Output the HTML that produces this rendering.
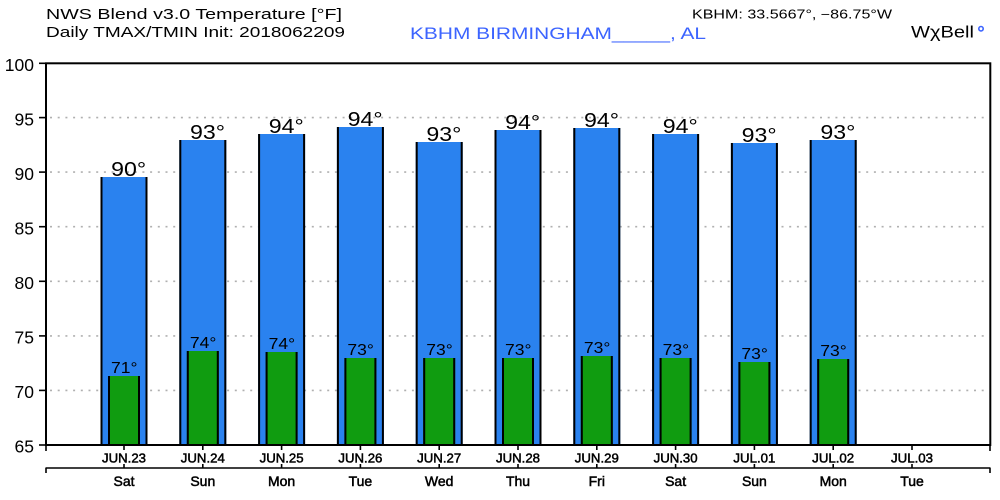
<!DOCTYPE html>
<html>
<head>
<meta charset="utf-8">
<style>
html,body{margin:0;padding:0;background:#fff;}
svg{display:block;}
text{font-family:"Liberation Sans","DejaVu Sans",sans-serif;}
</style>
</head>
<body>
<svg width="1000" height="500" viewBox="0 0 1000 500" xmlns="http://www.w3.org/2000/svg">
<rect x="0" y="0" width="1000" height="500" fill="#fff"/>

<!-- Header -->
<text x="46" y="19" font-size="15" fill="#000" textLength="296" lengthAdjust="spacingAndGlyphs">NWS Blend v3.0 Temperature [°F]</text>
<text x="46" y="37" font-size="15" fill="#000" textLength="299" lengthAdjust="spacingAndGlyphs">Daily TMAX/TMIN Init: 2018062209</text>
<text x="410" y="39" font-size="17" fill="#3c64ff" textLength="296" lengthAdjust="spacingAndGlyphs">KBHM BIRMINGHAM_____, AL</text>
<text x="692" y="18.3" font-size="12.5" fill="#000" textLength="200" lengthAdjust="spacingAndGlyphs">KBHM: 33.5667°, −86.75°W</text>
<text x="911" y="37.3" font-size="17" fill="#000" textLength="63" lengthAdjust="spacingAndGlyphs">WχBell</text>
<circle cx="981" cy="28.7" r="2.2" fill="none" stroke="#3c64ff" stroke-width="1.6"/>

<!-- gridlines -->
<g stroke="#b0b0b0" stroke-width="1.6" stroke-dasharray="2 5.7">
<line x1="50" y1="390.4" x2="988" y2="390.4"/>
<line x1="50" y1="335.9" x2="988" y2="335.9"/>
<line x1="50" y1="281.3" x2="988" y2="281.3"/>
<line x1="50" y1="226.7" x2="988" y2="226.7"/>
<line x1="50" y1="172.1" x2="988" y2="172.1"/>
<line x1="50" y1="117.6" x2="988" y2="117.6"/>
</g>

<!-- Bars -->
<g id="bars">
<rect x="100.5" y="177" width="47" height="268" fill="#2a82ef"/>
<rect x="100.5" y="177" width="2" height="268" fill="#000"/><rect x="145.5" y="177" width="2" height="268" fill="#000"/>
<rect x="108" y="376" width="32" height="69" fill="#109c10"/>
<rect x="108" y="376" width="2" height="69" fill="#000"/><rect x="138" y="376" width="2" height="69" fill="#000"/>

<rect x="179.3" y="140" width="47" height="305" fill="#2a82ef"/>
<rect x="179.3" y="140" width="2" height="305" fill="#000"/><rect x="224.3" y="140" width="2" height="305" fill="#000"/>
<rect x="186.8" y="351" width="32" height="94" fill="#109c10"/>
<rect x="186.8" y="351" width="2" height="94" fill="#000"/><rect x="216.8" y="351" width="2" height="94" fill="#000"/>

<rect x="258.1" y="134" width="47" height="311" fill="#2a82ef"/>
<rect x="258.1" y="134" width="2" height="311" fill="#000"/><rect x="303.1" y="134" width="2" height="311" fill="#000"/>
<rect x="265.6" y="352" width="32" height="93" fill="#109c10"/>
<rect x="265.6" y="352" width="2" height="93" fill="#000"/><rect x="295.6" y="352" width="2" height="93" fill="#000"/>

<rect x="336.9" y="127" width="47" height="318" fill="#2a82ef"/>
<rect x="336.9" y="127" width="2" height="318" fill="#000"/><rect x="381.9" y="127" width="2" height="318" fill="#000"/>
<rect x="344.4" y="358" width="32" height="87" fill="#109c10"/>
<rect x="344.4" y="358" width="2" height="87" fill="#000"/><rect x="374.4" y="358" width="2" height="87" fill="#000"/>

<rect x="415.7" y="142" width="47" height="303" fill="#2a82ef"/>
<rect x="415.7" y="142" width="2" height="303" fill="#000"/><rect x="460.7" y="142" width="2" height="303" fill="#000"/>
<rect x="423.2" y="358" width="32" height="87" fill="#109c10"/>
<rect x="423.2" y="358" width="2" height="87" fill="#000"/><rect x="453.2" y="358" width="2" height="87" fill="#000"/>

<rect x="494.5" y="130" width="47" height="315" fill="#2a82ef"/>
<rect x="494.5" y="130" width="2" height="315" fill="#000"/><rect x="539.5" y="130" width="2" height="315" fill="#000"/>
<rect x="502" y="358" width="32" height="87" fill="#109c10"/>
<rect x="502" y="358" width="2" height="87" fill="#000"/><rect x="532" y="358" width="2" height="87" fill="#000"/>

<rect x="573.3" y="128" width="47" height="317" fill="#2a82ef"/>
<rect x="573.3" y="128" width="2" height="317" fill="#000"/><rect x="618.3" y="128" width="2" height="317" fill="#000"/>
<rect x="580.8" y="356" width="32" height="89" fill="#109c10"/>
<rect x="580.8" y="356" width="2" height="89" fill="#000"/><rect x="610.8" y="356" width="2" height="89" fill="#000"/>

<rect x="652.1" y="134" width="47" height="311" fill="#2a82ef"/>
<rect x="652.1" y="134" width="2" height="311" fill="#000"/><rect x="697.1" y="134" width="2" height="311" fill="#000"/>
<rect x="659.6" y="358" width="32" height="87" fill="#109c10"/>
<rect x="659.6" y="358" width="2" height="87" fill="#000"/><rect x="689.6" y="358" width="2" height="87" fill="#000"/>

<rect x="730.9" y="143" width="47" height="302" fill="#2a82ef"/>
<rect x="730.9" y="143" width="2" height="302" fill="#000"/><rect x="775.9" y="143" width="2" height="302" fill="#000"/>
<rect x="738.4" y="362" width="32" height="83" fill="#109c10"/>
<rect x="738.4" y="362" width="2" height="83" fill="#000"/><rect x="768.4" y="362" width="2" height="83" fill="#000"/>

<rect x="809.7" y="140" width="47" height="305" fill="#2a82ef"/>
<rect x="809.7" y="140" width="2" height="305" fill="#000"/><rect x="854.7" y="140" width="2" height="305" fill="#000"/>
<rect x="817.2" y="359" width="32" height="86" fill="#109c10"/>
<rect x="817.2" y="359" width="2" height="86" fill="#000"/><rect x="847.2" y="359" width="2" height="86" fill="#000"/>
</g>

<!-- Max labels -->
<g font-size="20" fill="#000" text-anchor="middle">
<text x="128.7" y="176" textLength="35" lengthAdjust="spacingAndGlyphs">90°</text>
<text x="207.5" y="139" textLength="35" lengthAdjust="spacingAndGlyphs">93°</text>
<text x="286.3" y="133" textLength="35" lengthAdjust="spacingAndGlyphs">94°</text>
<text x="365.1" y="126" textLength="35" lengthAdjust="spacingAndGlyphs">94°</text>
<text x="443.9" y="141" textLength="35" lengthAdjust="spacingAndGlyphs">93°</text>
<text x="522.7" y="129" textLength="35" lengthAdjust="spacingAndGlyphs">94°</text>
<text x="601.5" y="127" textLength="35" lengthAdjust="spacingAndGlyphs">94°</text>
<text x="680.3" y="133" textLength="35" lengthAdjust="spacingAndGlyphs">94°</text>
<text x="759.1" y="142" textLength="35" lengthAdjust="spacingAndGlyphs">93°</text>
<text x="837.9" y="139" textLength="35" lengthAdjust="spacingAndGlyphs">93°</text>
</g>

<!-- Min labels -->
<g font-size="16" fill="#000" text-anchor="middle">
<text x="124.3" y="373" textLength="26.5" lengthAdjust="spacingAndGlyphs">71°</text>
<text x="203.1" y="348" textLength="26.5" lengthAdjust="spacingAndGlyphs">74°</text>
<text x="281.9" y="349" textLength="26.5" lengthAdjust="spacingAndGlyphs">74°</text>
<text x="360.7" y="355" textLength="26.5" lengthAdjust="spacingAndGlyphs">73°</text>
<text x="439.5" y="355" textLength="26.5" lengthAdjust="spacingAndGlyphs">73°</text>
<text x="518.3" y="355" textLength="26.5" lengthAdjust="spacingAndGlyphs">73°</text>
<text x="597.1" y="353" textLength="26.5" lengthAdjust="spacingAndGlyphs">73°</text>
<text x="675.9" y="355" textLength="26.5" lengthAdjust="spacingAndGlyphs">73°</text>
<text x="754.7" y="359" textLength="26.5" lengthAdjust="spacingAndGlyphs">73°</text>
<text x="833.5" y="356" textLength="26.5" lengthAdjust="spacingAndGlyphs">73°</text>
</g>

<!-- Frame -->
<rect x="46" y="63.3" width="944.3" height="381.7" fill="none" stroke="#000" stroke-width="2"/>

<!-- Y axis ticks & labels -->
<g stroke="#000" stroke-width="1.6">
<line x1="39" y1="63.3" x2="46" y2="63.3"/>
<line x1="39" y1="117.6" x2="46" y2="117.6"/>
<line x1="39" y1="172.1" x2="46" y2="172.1"/>
<line x1="39" y1="226.7" x2="46" y2="226.7"/>
<line x1="39" y1="281.3" x2="46" y2="281.3"/>
<line x1="39" y1="335.9" x2="46" y2="335.9"/>
<line x1="39" y1="390.4" x2="46" y2="390.4"/>
<line x1="39" y1="445" x2="46" y2="445"/>
</g>
<g font-size="17.5" fill="#000" text-anchor="end">
<text x="34" y="71">100</text>
<text x="34" y="125.3">95</text>
<text x="34" y="179.8">90</text>
<text x="34" y="234.4">85</text>
<text x="34" y="289">80</text>
<text x="34" y="343.6">75</text>
<text x="34" y="398.1">70</text>
<text x="34" y="452.7">65</text>
</g>

<!-- X axis ticks -->
<g stroke="#000" stroke-width="1.6">
<line x1="46" y1="445" x2="46" y2="451"/>
<line x1="990" y1="445" x2="990" y2="451"/>
<line x1="124" y1="445" x2="124" y2="450"/>
<line x1="202.8" y1="445" x2="202.8" y2="450"/>
<line x1="281.6" y1="445" x2="281.6" y2="450"/>
<line x1="360.4" y1="445" x2="360.4" y2="450"/>
<line x1="439.2" y1="445" x2="439.2" y2="450"/>
<line x1="518" y1="445" x2="518" y2="450"/>
<line x1="596.8" y1="445" x2="596.8" y2="450"/>
<line x1="675.6" y1="445" x2="675.6" y2="450"/>
<line x1="754.4" y1="445" x2="754.4" y2="450"/>
<line x1="833.2" y1="445" x2="833.2" y2="450"/>
<line x1="912" y1="445" x2="912" y2="450"/>
<line x1="45.5" y1="468" x2="990.5" y2="468"/>
<line x1="46" y1="468" x2="46" y2="473"/>
<line x1="990" y1="468" x2="990" y2="473"/>
<line x1="124" y1="464" x2="124" y2="468"/>
<line x1="202.8" y1="464" x2="202.8" y2="468"/>
<line x1="281.6" y1="464" x2="281.6" y2="468"/>
<line x1="360.4" y1="464" x2="360.4" y2="468"/>
<line x1="439.2" y1="464" x2="439.2" y2="468"/>
<line x1="518" y1="464" x2="518" y2="468"/>
<line x1="596.8" y1="464" x2="596.8" y2="468"/>
<line x1="675.6" y1="464" x2="675.6" y2="468"/>
<line x1="754.4" y1="464" x2="754.4" y2="468"/>
<line x1="833.2" y1="464" x2="833.2" y2="468"/>
<line x1="912" y1="464" x2="912" y2="468"/>
</g>

<!-- X labels -->
<g font-size="13" fill="#000" stroke="#000" stroke-width="0.5" text-anchor="middle">
<text x="124" y="462.7" textLength="44" lengthAdjust="spacingAndGlyphs">JUN.23</text>
<text x="202.8" y="462.7" textLength="44" lengthAdjust="spacingAndGlyphs">JUN.24</text>
<text x="281.6" y="462.7" textLength="44" lengthAdjust="spacingAndGlyphs">JUN.25</text>
<text x="360.4" y="462.7" textLength="44" lengthAdjust="spacingAndGlyphs">JUN.26</text>
<text x="439.2" y="462.7" textLength="44" lengthAdjust="spacingAndGlyphs">JUN.27</text>
<text x="518" y="462.7" textLength="44" lengthAdjust="spacingAndGlyphs">JUN.28</text>
<text x="596.8" y="462.7" textLength="44" lengthAdjust="spacingAndGlyphs">JUN.29</text>
<text x="675.6" y="462.7" textLength="44" lengthAdjust="spacingAndGlyphs">JUN.30</text>
<text x="754.4" y="462.7" textLength="42" lengthAdjust="spacingAndGlyphs">JUL.01</text>
<text x="833.2" y="462.7" textLength="42" lengthAdjust="spacingAndGlyphs">JUL.02</text>
<text x="912" y="462.7" textLength="42" lengthAdjust="spacingAndGlyphs">JUL.03</text>
</g>
<g font-size="14" fill="#000" stroke="#000" stroke-width="0.5" text-anchor="middle">
<text x="124" y="486">Sat</text>
<text x="202.8" y="486">Sun</text>
<text x="281.6" y="486">Mon</text>
<text x="360.4" y="486">Tue</text>
<text x="439.2" y="486">Wed</text>
<text x="518" y="486">Thu</text>
<text x="596.8" y="486">Fri</text>
<text x="675.6" y="486">Sat</text>
<text x="754.4" y="486">Sun</text>
<text x="833.2" y="486">Mon</text>
<text x="912" y="486">Tue</text>
</g>
</svg>
</body>
</html>
